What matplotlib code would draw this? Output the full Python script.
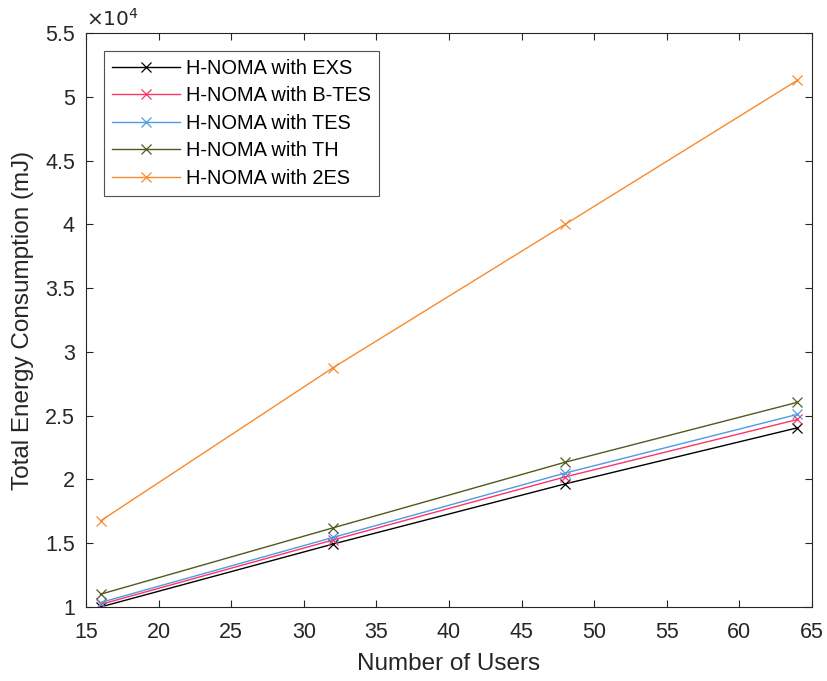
import matplotlib
matplotlib.use("Agg")
import matplotlib.pyplot as plt

users = [16, 32, 48, 64]
exs = [1.00, 1.493, 1.965, 2.405]
btes = [1.02, 1.525, 2.02, 2.47]
tes = [1.035, 1.545, 2.05, 2.51]
th = [1.10, 1.62, 2.135, 2.605]
two_es = [1.675, 2.875, 4.00, 5.13]
labels = ["H-NOMA with EXS", "H-NOMA with B-TES", "H-NOMA with TES", "H-NOMA with TH", "H-NOMA with 2ES"]
colors = ["#000000", "#ff3366", "#4d9be6", "#4f5a20", "#f78a2e"]

plt.rcParams['font.family'] = ['Liberation Sans', 'DejaVu Sans']
fig = plt.figure(figsize=(8.28, 6.81), dpi=100)
ax = fig.add_axes([0.1039, 0.1087, 0.8768, 0.8428])
for ys, lab, c in zip([exs, btes, tes, th, two_es], labels, colors):
    ax.plot(users, [v * 1e4 for v in ys], marker='x', color=c, lw=1.0, ms=7.5, mew=0.9, label=lab)

ax.set_xlim(15, 65)
ax.set_ylim(1e4, 5.5e4)
ax.set_xticks(range(15, 66, 5))
yt = [1, 1.5, 2, 2.5, 3, 3.5, 4, 4.5, 5, 5.5]
ax.set_yticks([v * 1e4 for v in yt])
ax.set_yticklabels([f"{v:g}" for v in yt])
ax.tick_params(direction='in', labelsize=15.5, colors='#262626', length=5, top=True, right=True, labelcolor='#262626')
ax.tick_params(axis='x', pad=11)
ax.tick_params(axis='y', pad=8)
for s in ax.spines.values():
    s.set_color('#262626')
    s.set_linewidth(0.8)
ax.set_xlabel("Number of Users", fontsize=17.5, color='#262626', labelpad=7)
ax.set_ylabel("Total Energy Consumption (mJ)", fontsize=17.5, color='#262626', labelpad=8)
ax.text(0.0, 1.005, r"$\times10^{4}$", transform=ax.transAxes, fontsize=14.5, color='#262626', va='bottom', ha='left')
leg = ax.legend(loc='upper left', prop={'size': 14.4}, frameon=True, fancybox=False, edgecolor='#262626',
                borderaxespad=0.9, handlelength=3.4, handletextpad=0.3, labelspacing=0.42, borderpad=0.4)
leg.get_frame().set_linewidth(0.8)
fig.savefig("out.png", dpi=100)
